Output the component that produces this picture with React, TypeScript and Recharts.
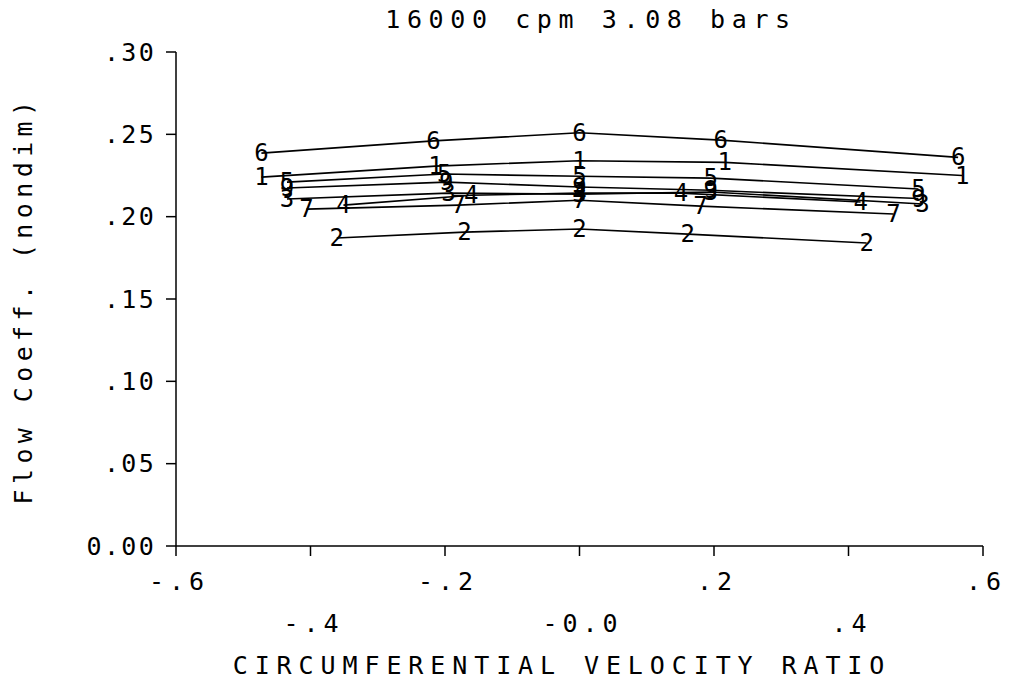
import React from 'react';
import { LineChart, Line, XAxis, YAxis } from 'recharts';

// Series labels (marker glyphs) and values
const seriesNames = ['1', '2', '3', '4', '5', '6', '7', '9'];

const s1x = [-0.473, -0.214, 0.0, 0.216, 0.569];
const s1y = [0.224, 0.2307, 0.234, 0.233, 0.225];

const s2x = [-0.361, -0.171, 0.0, 0.161, 0.427];
const s2y = [0.187, 0.1906, 0.1925, 0.1894, 0.184];

const s3x = [-0.435, -0.195, 0.0, 0.195, 0.51];
const s3y = [0.2107, 0.2143, 0.2137, 0.215, 0.2077];

const s4x = [-0.351, -0.161, 0.0, 0.151, 0.418];
const s4y = [0.207, 0.213, 0.2143, 0.2143, 0.2089];

const s5x = [-0.435, -0.201, 0.0, 0.195, 0.504];
const s5y = [0.221, 0.2259, 0.2245, 0.2234, 0.2168];

const s6x = [-0.473, -0.217, 0.0, 0.21, 0.563];
const s6y = [0.2386, 0.246, 0.251, 0.2465, 0.236];

const s7x = [-0.406, -0.18, 0.0, 0.18, 0.467];
const s7y = [0.2046, 0.207, 0.21, 0.2064, 0.2016];

const s9x = [-0.435, -0.198, 0.0, 0.195, 0.504];
const s9y = [0.2174, 0.221, 0.218, 0.216, 0.211];

const xTicks = [-0.6, -0.4, -0.2, 0.0, 0.2, 0.4, 0.6];
const xTickLabels = ['-.6', '-.4', '-.2', '-0.0', '.2', '.4', '.6'];
const yTicks = [0.0, 0.05, 0.1, 0.15, 0.2, 0.25, 0.3];
const yTickLabels = ['0.00', '.05', '.10', '.15', '.20', '.25', '.30'];

const titleText = '16000 cpm 3.08 bars';
const xTitle = 'CIRCUMFERENTIAL VELOCITY RATIO';
const yTitle = 'Flow Coeff. (nondim)';

const FONT = '"DejaVu Sans Mono", "Liberation Mono", monospace';

const zip = (xs: number[], ys: number[]) => xs.map((x, i) => ({ x, y: ys[i] }));

const seriesData = [
  zip(s1x, s1y),
  zip(s2x, s2y),
  zip(s3x, s3y),
  zip(s4x, s4y),
  zip(s5x, s5y),
  zip(s6x, s6y),
  zip(s7x, s7y),
  zip(s9x, s9y),
];

const makeDot = (label: string) => (p: any) => (
  <text
    key={`${label}-${p.index}`}
    x={p.cx}
    y={p.cy}
    textAnchor="middle"
    dominantBaseline="central"
    fontFamily={FONT}
    fontSize={24}
    fill="#000"
  >
    {label}
  </text>
);

const XTick = (props: any) => {
  const { x, y, payload, index } = props;
  const i = xTicks.findIndex((t) => Math.abs(t - payload.value) < 1e-9);
  const lab = xTickLabels[i >= 0 ? i : index];
  const row = (i >= 0 ? i : index) % 2 === 0 ? 23 : 65;
  return (
    <text
      x={x + 3}
      y={y + row}
      textAnchor="middle"
      dominantBaseline="central"
      fontFamily={FONT}
      fontSize={25}
      letterSpacing={5}
      fill="#000"
    >
      {lab}
    </text>
  );
};

const YTick = (props: any) => {
  const { x, y, payload, index } = props;
  const i = yTicks.findIndex((t) => Math.abs(t - payload.value) < 1e-9);
  const lab = yTickLabels[i >= 0 ? i : index];
  return (
    <text
      x={x - 8}
      y={y}
      textAnchor="end"
      dominantBaseline="central"
      fontFamily={FONT}
      fontSize={25}
      letterSpacing={2.3}
      fill="#000"
    >
      {lab}
    </text>
  );
};

export default function App() {
  return (
    <div style={{ position: 'absolute', left: 0, top: 0, width: 1029, height: 689, background: '#fff' }}>
      <LineChart
        width={1029}
        height={689}
        margin={{ top: 52, right: 46, bottom: 33, left: 76 }}
      >
        <XAxis
          type="number"
          dataKey="x"
          domain={[-0.6, 0.6]}
          ticks={xTicks}
          interval={0}
          allowDataOverflow
          height={110}
          tickSize={10}
          tick={<XTick />}
          axisLine={{ stroke: '#000', strokeWidth: 1.5 }}
          tickLine={{ stroke: '#000', strokeWidth: 1.5 }}
        />
        <YAxis
          type="number"
          dataKey="y"
          domain={[0, 0.3]}
          ticks={yTicks}
          interval={0}
          allowDataOverflow
          width={100}
          tickSize={10}
          tick={<YTick />}
          axisLine={{ stroke: '#000', strokeWidth: 1.5 }}
          tickLine={{ stroke: '#000', strokeWidth: 1.5 }}
        />
        {seriesData.map((d, k) => (
          <Line
            key={seriesNames[k]}
            data={d}
            dataKey="y"
            type="linear"
            stroke="#000"
            strokeWidth={1.6}
            dot={makeDot(seriesNames[k])}
            activeDot={false}
            isAnimationActive={false}
          />
        ))}
      </LineChart>
      <svg
        width={1029}
        height={689}
        style={{ position: 'absolute', left: 0, top: 0, pointerEvents: 'none' }}
      >
        <text
          x={591}
          y={19}
          textAnchor="middle"
          dominantBaseline="central"
          fontFamily={FONT}
          fontSize={25}
          letterSpacing={6.6}
          fill="#000"
        >
          {titleText}
        </text>
        <text
          x={562}
          y={665}
          textAnchor="middle"
          dominantBaseline="central"
          fontFamily={FONT}
          fontSize={25}
          letterSpacing={6.9}
          fill="#000"
        >
          {xTitle}
        </text>
        <text
          x={23}
          y={300}
          transform="rotate(-90 23 300)"
          textAnchor="middle"
          dominantBaseline="central"
          fontFamily={FONT}
          fontSize={25}
          letterSpacing={5.4}
          fill="#000"
        >
          {yTitle}
        </text>
      </svg>
    </div>
  );
}
